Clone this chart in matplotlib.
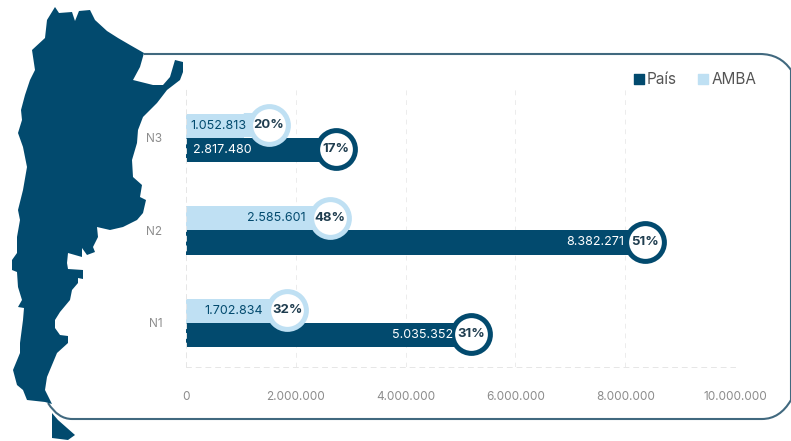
import numpy as np
import matplotlib
matplotlib.use('Agg')
import matplotlib.pyplot as plt
from matplotlib.patches import Polygon, PathPatch
from matplotlib.path import Path
from matplotlib.transforms import offset_copy

categories = ['N1', 'N2', 'N3']
pais_values = [5035352, 8382271, 2817480]
amba_values = [1702834, 2585601, 1052813]
pais_pct = ['31%', '51%', '17%']
amba_pct = ['32%', '48%', '20%']
xticks = [0, 2000000, 4000000, 6000000, 8000000, 10000000]

W, H = 791, 441
DARK = '#024a6e'
LIGHT = '#bfe0f3'
FRAME = '#41697f'
GREY = '#8c8c8c'
TEXT_DARK = '#1f3d4f'

# badge centres sit a few pixels off the end of each bar
pais_shift = [9, -1, -5]
amba_shift = [8, 2, 25]

# country outline in pixel coordinates
mainland = [(55, 7), (59, 13), (72, 12), (75, 21), (79, 11), (90, 10), (95, 20),
            (107, 31), (118, 38), (130, 45), (144, 53), (140, 67), (133, 80),
            (153, 85), (163, 85), (170, 77), (175, 60), (183, 62), (183, 72),
            (180, 80), (167, 90), (157, 103), (143, 117), (138, 130), (137, 143),
            (132, 160), (133, 177), (142, 185), (140, 197), (146, 200), (143, 213),
            (137, 220), (123, 227), (110, 230), (97, 227), (98, 237), (93, 247),
            (95, 252), (87, 255), (82, 248), (82, 257), (68, 253), (67, 263),
            (68, 269), (83, 270), (83, 279), (78, 278), (78, 283), (72, 290),
            (70, 300), (60, 312), (55, 320), (55, 328), (60, 335), (68, 336),
            (68, 343), (57, 353), (47, 377), (45, 390), (52, 404), (45, 402),
            (27, 400), (23, 390), (17, 385), (13, 370), (20, 353), (20, 343),
            (23, 320), (24, 308), (18, 307), (22, 300), (18, 287), (17, 272),
            (12, 270), (12, 260), (17, 253), (17, 237), (20, 220), (18, 210),
            (23, 190), (27, 167), (23, 147), (18, 133), (22, 120), (21, 110),
            (25, 95), (30, 80), (35, 70), (32, 50), (45, 38), (47, 20)]
fuego = [(52, 413), (58, 420), (75, 435), (68, 440), (52, 438)]

plt.rcParams['font.family'] = ['Inter', 'DejaVu Sans']

fig = plt.figure(figsize=(W / 100, H / 100), dpi=100)

# full-figure axes in pixel coordinates for the frame and the map
bg = fig.add_axes([0, 0, 1, 1])
bg.set_xlim(0, W)
bg.set_ylim(H, 0)
bg.axis('off')

frame = Path([(144, 54), (760, 54), (791, 54), (791, 78), (791, 395), (791, 419),
              (762, 419), (72, 419), (58, 419), (48, 403)],
             [Path.MOVETO, Path.LINETO, Path.CURVE4, Path.CURVE4, Path.CURVE4,
              Path.LINETO, Path.CURVE3, Path.CURVE3, Path.LINETO, Path.CURVE3][:10])
frame = Path([(144, 54), (760, 54), (780, 54), (791, 70), (791, 400), (780, 419),
              (762, 419), (72, 419), (58, 419), (48, 403)],
             [Path.MOVETO, Path.LINETO, Path.CURVE3, Path.CURVE3, Path.LINETO,
              Path.CURVE3, Path.CURVE3, Path.LINETO, Path.CURVE3, Path.CURVE3])
bg.add_patch(PathPatch(frame, fc='none', ec=FRAME, lw=1.5))
bg.add_patch(Polygon(mainland, closed=True, fc=DARK, ec='none'))
bg.add_patch(Polygon(fuego, closed=True, fc=DARK, ec='none'))

# chart area: x axis runs 186-735 px, rows are 92.5 px apart
ax = fig.add_axes([186 / W, 1 - 367 / H, (735 - 186) / W, (367 - 88) / H])
ax.patch.set_alpha(0)
ax.set_xlim(0, 10000000)
ax.set_ylim(-0.476, 2.54)

y = np.arange(len(categories))
bar_h = 0.26
ax.barh(y - bar_h / 2, pais_values, height=bar_h, color=DARK, zorder=2)
ax.barh(y + bar_h / 2, amba_values, height=bar_h, color=LIGHT, zorder=2)

ax.set_xticks(xticks)
ax.set_xticklabels(['0', '2.000.000', '4.000.000', '6.000.000', '8.000.000', '10.000.000'],
                   fontsize=8.5, color=GREY)
ax.set_yticks(y)
ax.set_yticklabels(categories, fontsize=8.5, color=GREY)
ax.tick_params(length=0)
ax.tick_params(axis='x', pad=17)
ax.tick_params(axis='y', pad=17)
ax.grid(axis='x', color='#ececec', lw=0.7, ls=(0, (5, 5)), zorder=0)
for s in ['top', 'right']:
    ax.spines[s].set_visible(False)
for s in ['left', 'bottom']:
    ax.spines[s].set_color('#e6e6e6')
    ax.spines[s].set_linewidth(0.7)
    ax.spines[s].set_linestyle((0, (5, 5)))

bar_pts = bar_h * 92.5 * 0.72


def badge(x, yc, shift, pct, fill, ink):
    # stem from the bar end out to the ring, then the ring with its percentage
    if shift > 0:
        ax.annotate('', xy=(x, yc), xytext=(shift * 0.72, 0), textcoords='offset points',
                    arrowprops=dict(arrowstyle='-', color=fill, lw=bar_pts,
                                    shrinkA=0, shrinkB=0, capstyle='butt'), zorder=3)
    tr = offset_copy(ax.transData, fig=fig, x=shift * 0.72, y=0, units='points')
    ax.scatter([x], [yc], s=740, facecolor='white', edgecolor=fill, linewidth=3.6,
               transform=tr, zorder=4, clip_on=False)
    ax.text(x, yc, pct, transform=tr, ha='center', va='center', fontsize=9.5,
            fontweight='bold', color=ink, zorder=5)


# light badges go first so the dark rings overlap them
for i in range(3):
    badge(amba_values[i], y[i] + bar_h / 2 + 0.01, amba_shift[i], amba_pct[i], LIGHT, TEXT_DARK)
for i in range(3):
    badge(pais_values[i], y[i] - bar_h / 2 + 0.01, pais_shift[i], pais_pct[i], DARK, TEXT_DARK)

# value labels inside the bars
lab = dict(fontsize=9, va='center', zorder=6)
ax.annotate(f'{amba_values[2]:,}'.replace(',', '.'), (0, 2 + bar_h / 2), xytext=(3, 0),
            textcoords='offset points', color=DARK, ha='left', **lab)
ax.annotate(f'{pais_values[2]:,}'.replace(',', '.'), (0, 2 - bar_h / 2), xytext=(5, 0),
            textcoords='offset points', color='white', ha='left', **lab)
ax.annotate(f'{amba_values[1]:,}'.replace(',', '.'), (amba_values[1], 1 + bar_h / 2), xytext=(-16, 0),
            textcoords='offset points', color=DARK, ha='right', **lab)
ax.annotate(f'{pais_values[1]:,}'.replace(',', '.'), (pais_values[1], 1 - bar_h / 2), xytext=(-16, 0),
            textcoords='offset points', color='white', ha='right', **lab)
ax.annotate(f'{amba_values[0]:,}'.replace(',', '.'), (amba_values[0], 0 + bar_h / 2), xytext=(-12, 0),
            textcoords='offset points', color=DARK, ha='right', **lab)
ax.annotate(f'{pais_values[0]:,}'.replace(',', '.'), (pais_values[0], 0 - bar_h / 2), xytext=(-7, 0),
            textcoords='offset points', color='white', ha='right', **lab)

# legend
bg.scatter([639], [79], marker='s', s=50, color=DARK)
bg.text(647, 79, 'País', fontsize=11, color='#555555', va='center')
bg.scatter([703], [79], marker='s', s=50, color=LIGHT)
bg.text(712, 79, 'AMBA', fontsize=11, color='#555555', va='center')

fig.savefig('out.png', dpi=100)
